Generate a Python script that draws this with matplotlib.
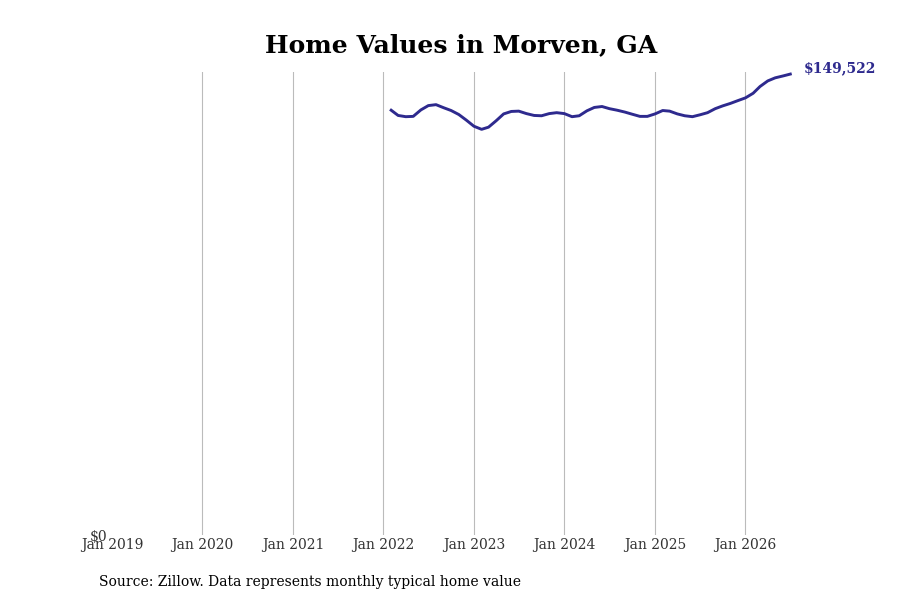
import numpy as np
import pandas as pd
import matplotlib.pyplot as plt
import matplotlib.dates as mdates

# typical home values, monthly from Feb 2022 to Jul 2026
dates = pd.date_range('2022-02-01', '2026-07-01', freq='MS')
values = [137800, 136100, 135700, 135800, 137900, 139300, 139600, 138600, 137700, 136400, 134600,
          132600, 131600, 132300, 134400, 136600, 137400, 137500, 136700, 136100, 136000, 136700, 137000,
          136700, 135700, 136000, 137600, 138700, 139000, 138300, 137800, 137200, 136500, 135800, 135800,
          136600, 137700, 137500, 136600, 136000, 135700, 136300, 137000, 138300, 139200, 140000, 140900,
          141800, 143300, 145500, 147300, 148300, 148900, 149522]
tick_years = list(range(2019, 2027))

plt.rcParams['font.family'] = 'DejaVu Serif'
color = '#2e2a8e'

fig = plt.figure(figsize=(9, 6), dpi=100)
ax = fig.add_axes([0.1244, 0.1083, 0.776, 0.7717])

ax.plot(dates, values, color=color, linewidth=2.1)

ax.set_xlim(pd.Timestamp('2019-01-01'), pd.Timestamp('2026-09-20'))
ax.set_ylim(0, values[-1] * 1.0045)

ax.set_xticks([pd.Timestamp(f'{y}-01-01') for y in tick_years])
ax.xaxis.set_major_formatter(mdates.DateFormatter('%b %Y'))
ax.set_yticks([0])
ax.set_yticklabels(['$0'])
ax.tick_params(axis='both', length=0, labelsize=10, colors='#333333')
ax.tick_params(axis='x', pad=2)
ax.tick_params(axis='y', pad=3)

ax.grid(axis='x', color='#bbbbbb', linewidth=0.8)
ax.grid(axis='y', visible=False)
for s in ax.spines.values():
    s.set_visible(False)
# hide the gridline at the left edge
ax.get_xgridlines()[0].set_visible(False)

ax.annotate(f'${values[-1]:,}', xy=(dates[-1], values[-1]), xytext=(10, 4),
            textcoords='offset points', color=color, fontsize=10, fontweight='bold',
            va='center', ha='left')

fig.text(0.5125, 0.925, 'Home Values in Morven, GA', ha='center', va='center',
         fontsize=18, fontweight='bold')
fig.text(0.11, 0.03, 'Source: Zillow. Data represents monthly typical home value',
         ha='left', va='center', fontsize=10)

fig.savefig('out.png', dpi=100)
